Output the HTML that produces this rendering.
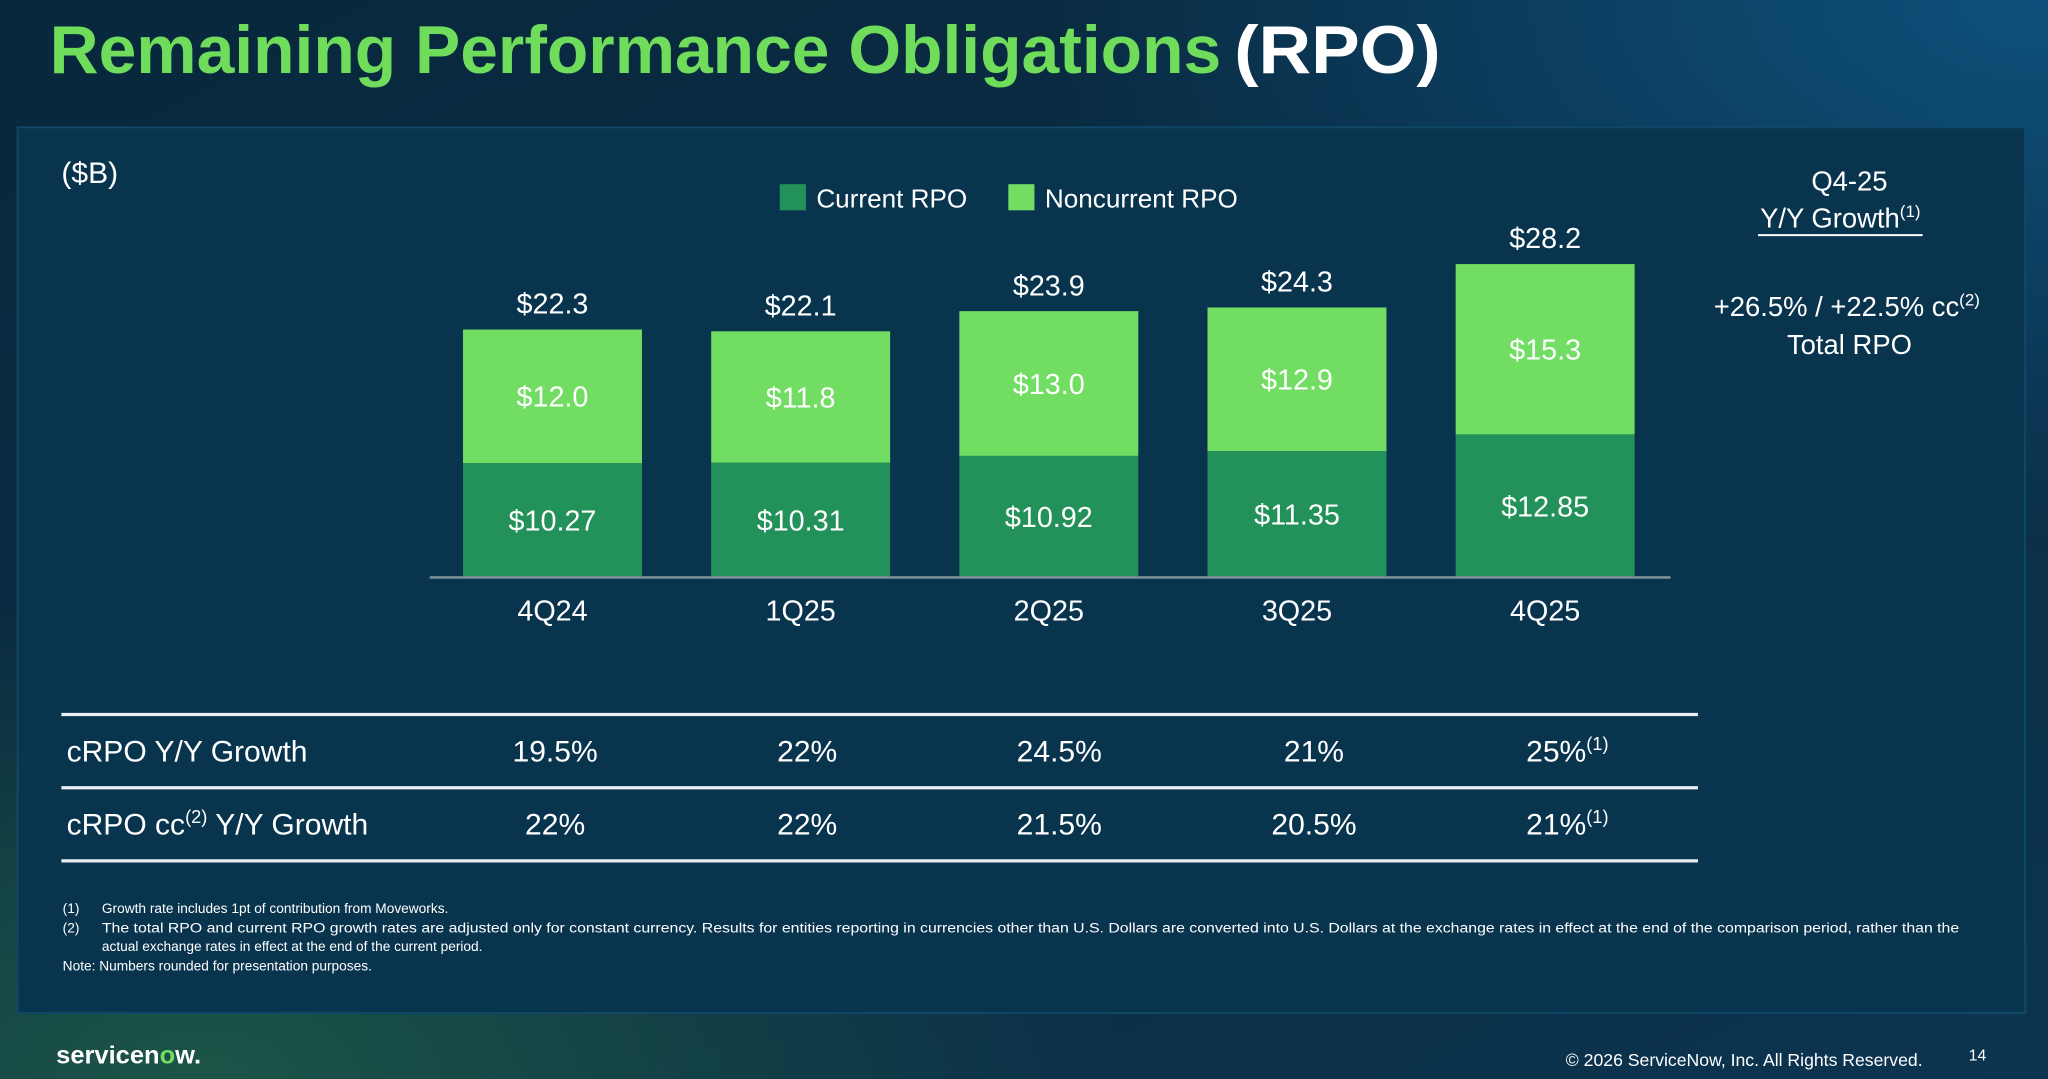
<!DOCTYPE html>
<html><head><meta charset="utf-8"><style>
html,body{margin:0;padding:0;background:#0a2a3f;}
svg{display:block;font-family:"Liberation Sans",sans-serif;}
</style></head><body>
<svg id="slide" width="2048" height="1079" viewBox="0 0 1568 826" preserveAspectRatio="none" xmlns="http://www.w3.org/2000/svg">
<defs>
<linearGradient id="bg" x1="0" y1="0" x2="1" y2="1">
<stop offset="0" stop-color="#08283d"/><stop offset="0.6" stop-color="#0a2c44"/><stop offset="1" stop-color="#0c3550"/>
</linearGradient>
<radialGradient id="tr" cx="1" cy="0" r="0.5"><stop offset="0" stop-color="#0f5a8a" stop-opacity="0.8"/><stop offset="1" stop-color="#0f5a8a" stop-opacity="0"/></radialGradient>
<radialGradient id="bl" cx="0.1" cy="1" r="0.45"><stop offset="0" stop-color="#1e5a48" stop-opacity="0.9"/><stop offset="1" stop-color="#1e5a48" stop-opacity="0"/></radialGradient>
</defs>
<rect width="1568" height="826" fill="url(#bg)"/>
<rect width="1568" height="826" fill="url(#tr)"/>
<rect width="1568" height="826" fill="url(#bl)"/>
<text x="38" y="56" font-size="52" font-weight="bold" fill="#6fdc5c" textLength="897" lengthAdjust="spacingAndGlyphs">Remaining Performance Obligations</text>
<text x="945" y="56" font-size="52" font-weight="bold" fill="#ffffff" textLength="158" lengthAdjust="spacingAndGlyphs">(RPO)</text>
<rect x="13.5" y="97.5" width="1537" height="678" fill="#09344e" stroke="#0f4868" stroke-width="1.5"/>
<text x="47" y="140" font-size="23" fill="#fff">($B)</text>
<g>
<rect x="597" y="141" width="20" height="20" fill="#23925a"/>
<text x="625" y="159" font-size="20" fill="#fff">Current RPO</text>
<rect x="772" y="141" width="20" height="20" fill="#72dd63"/>
<text x="800" y="159" font-size="20" fill="#fff">Noncurrent RPO</text>
</g>
<g id="bars"></g>
<line x1="329" y1="442" x2="1279" y2="442" stroke="#7d8d99" stroke-width="2"/>
<g fill="#fff" font-size="21" text-anchor="middle">
<text x="1416" y="146">Q4-25</text>
<text x="1409" y="174">Y/Y Growth<tspan font-size="13" dy="-8">(1)</tspan></text>
<line x1="1346" y1="180" x2="1472" y2="180" stroke="#fff" stroke-width="1.5"/>
<text x="1414" y="242">+26.5% / +22.5% cc<tspan font-size="13" dy="-8">(2)</tspan></text>
<text x="1416" y="271">Total RPO</text>
</g>
<g id="table"></g>
<g fill="#fff" font-size="10.5">
<text x="48" y="699">(1)</text><text x="78" y="699">Growth rate includes 1pt of contribution from Moveworks.</text>
<text x="48" y="714">(2)</text><text x="78" y="714" textLength="1422" lengthAdjust="spacingAndGlyphs">The total RPO and current RPO growth rates are adjusted only for constant currency. Results for entities reporting in currencies other than U.S. Dollars are converted into U.S. Dollars at the exchange rates in effect at the end of the comparison period, rather than the</text>
<text x="78" y="728">actual exchange rates in effect at the end of the current period.</text>
<text x="48" y="743">Note: Numbers rounded for presentation purposes.</text>
</g>
<text x="43" y="814" font-size="19" font-weight="bold" fill="#fff" textLength="111" lengthAdjust="spacingAndGlyphs">servicen<tspan fill="#72dd63">o</tspan>w.</text>
<text x="1472" y="816" font-size="13.5" fill="#fff" text-anchor="end">© 2026 ServiceNow, Inc. All Rights Reserved.</text>
<text x="1514" y="812" font-size="12" fill="#fff" text-anchor="middle">14</text>
</svg>
<script>
const categories = ["4Q24","1Q25","2Q25","3Q25","4Q25"];
const currentRPO = [10.27,10.31,10.92,11.35,12.85];
const noncurrentRPO = [12.0,11.8,13.0,12.9,15.3];
const totalRPO = [22.3,22.1,23.9,24.3,28.2];
const currentLabels = ["$10.27","$10.31","$10.92","$11.35","$12.85"];
const noncurrentLabels = ["$12.0","$11.8","$13.0","$12.9","$15.3"];
const totalLabels = ["$22.3","$22.1","$23.9","$24.3","$28.2"];
const rowLabels = ["cRPO Y/Y Growth","cRPO cc(2) Y/Y Growth"];
const crpoGrowth = ["19.5%","22%","24.5%","21%","25%(1)"];
const crpoCcGrowth = ["22%","22%","21.5%","20.5%","21%(1)"];

const NS="http://www.w3.org/2000/svg";
const baseY=442, pxPerUnit=8.52, firstX=423, step=190, barW=137;
const yS=v=>baseY-v*pxPerUnit;
const xS=i=>firstX+i*step;
function mk(tag,attrs,parent,txt){const e=document.createElementNS(NS,tag);for(const k in attrs)e.setAttribute(k,attrs[k]);if(txt!==undefined)e.textContent=txt;parent.appendChild(e);return e;}
const g=document.getElementById('bars');
categories.forEach((c,i)=>{
  const cx=xS(i), cTop=yS(currentRPO[i]), tTop=yS(currentRPO[i]+noncurrentRPO[i]);
  const b1=mk('rect',{x:cx-barW/2,y:cTop,width:barW,height:baseY-cTop,fill:'#23925a'},g);
  
  
  const b2=mk('rect',{x:cx-barW/2,y:tTop,width:barW,height:cTop-tTop,fill:'#72dd63'},g);
  
  
  const t1=mk('text',{x:cx,y:(cTop+baseY)/2+8,'font-size':22,fill:'#fff','text-anchor':'middle'},g,currentLabels[i]);
  
  
  const t2=mk('text',{x:cx,y:(cTop+tTop)/2+8,'font-size':22,fill:'#fff','text-anchor':'middle'},g,noncurrentLabels[i]);
  
  
  const t3=mk('text',{x:cx,y:yS(totalRPO[i])-12,'font-size':22,fill:'#fff','text-anchor':'middle'},g,totalLabels[i]);
  
  
  const t4=mk('text',{x:cx,y:475,'font-size':22,fill:'#fff','text-anchor':'middle'},g,c);
  
  
});
const tb=document.getElementById('table');
[547,603,659].forEach(y=>{
  const l=mk('line',{x1:47,y1:y,x2:1300,y2:y,stroke:'#e8eef2','stroke-width':2.5},tb);
  
  
});
const colX=[425,618,811,1006,1200];
function addVal(parent,x,y,s){
  const m=s.match(/^(.*?)(\(\d\))?$/);
  const t=mk('text',{x:x,y:y,'font-size':23,fill:'#fff','text-anchor':'middle'},parent,m[1]);
  if(m[2]){mk('tspan',{'font-size':14,dy:-9},t,m[2]);}
  return t;
}
[crpoGrowth,crpoCcGrowth].forEach((row,r)=>{
  const y=583+r*56;
  const lab=mk('text',{x:51,y:y,'font-size':23,fill:'#fff'},tb);
  
  
  if(r===0){lab.textContent=rowLabels[0];}
  else{lab.appendChild(document.createTextNode('cRPO cc'));mk('tspan',{'font-size':14,dy:-9},lab,'(2)');mk('tspan',{dy:9},lab,' Y/Y Growth');}
  row.forEach((v,i)=>{
    const t=addVal(tb,colX[i],y,v);
    
    
  });
});
</script>
</body></html>
